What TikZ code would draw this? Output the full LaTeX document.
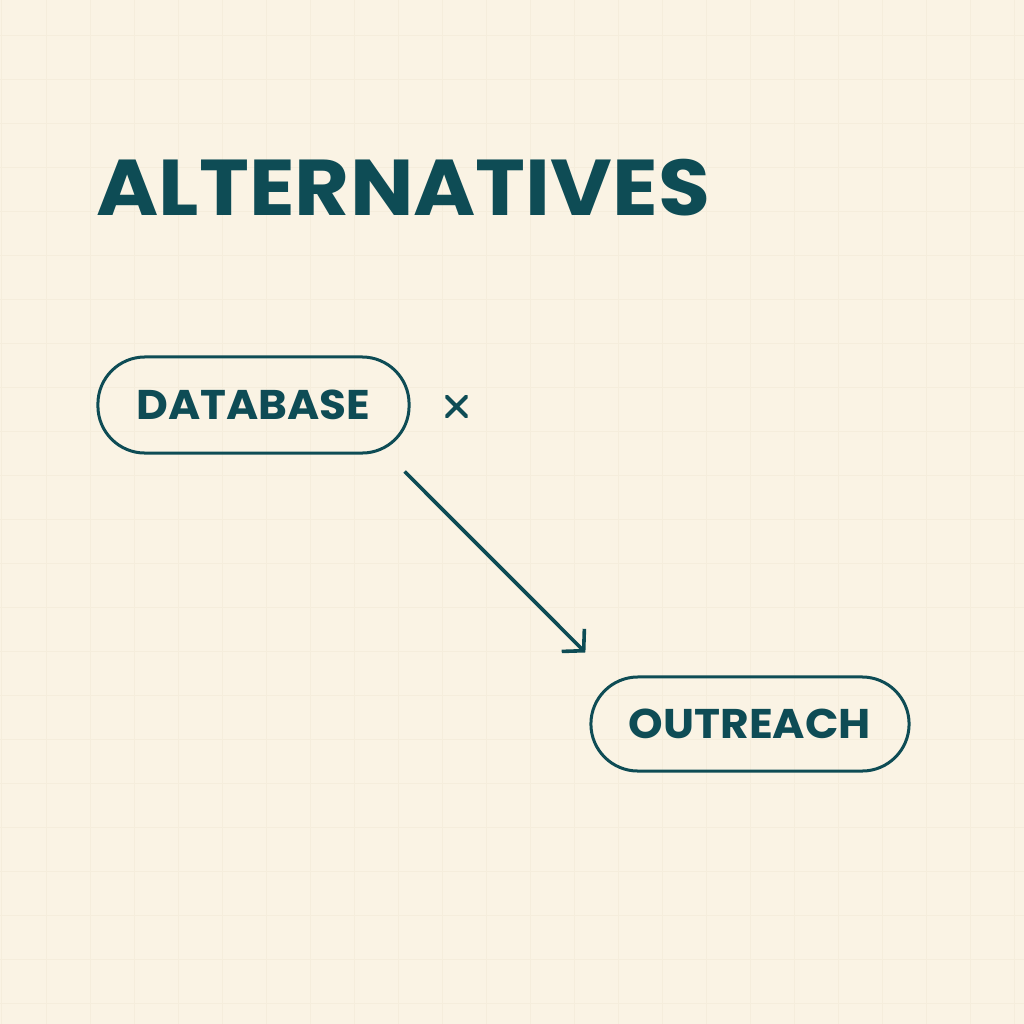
\documentclass[tikz,border=0pt]{standalone}
\usepackage{fontspec}
\setmainfont{Poppins}
\usetikzlibrary{calc,arrows.meta}
\definecolor{bg}{HTML}{FAF3E4}
\definecolor{gridc}{HTML}{F5EDDC}
\definecolor{ink}{HTML}{0E4C55}
\tikzset{
  pill/.style={draw=ink, line width=0.03cm, rounded corners=0.47cm, inner sep=0pt, text=ink, font=\bfseries\fontsize{11.8pt}{14pt}\selectfont},
  conn/.style={draw=ink, line width=0.036cm, -{Straight Barb[length=0.15cm,width=0.32cm,line width=0.036cm]}},
  cross/.style={inner sep=0pt, minimum size=0.22cm, path picture={
     \draw[ink, line width=0.042cm] (path picture bounding box.north west) -- (path picture bounding box.south east)
       (path picture bounding box.north east) -- (path picture bounding box.south west);}}
}
\begin{document}
\begin{tikzpicture}[x=0.01cm,y=-0.01cm]
\fill[bg] (0,0) rectangle (1024,1024);
\useasboundingbox (0,0) rectangle (1024,1024);
\foreach \g in {0,...,23} {
  \draw[gridc, line width=0.01cm] ({2+44*\g},0) -- ({2+44*\g},1024);
  \draw[gridc, line width=0.01cm] (0,{35+44*\g}) -- (1024,{35+44*\g});
}
\node[anchor=base west, inner sep=0pt, text=ink, font=\bfseries\fontsize{22.5pt}{26pt}\selectfont] (title) at (96,215) {\scalebox{1.068}[1]{ALTERNATIVES}};
\node[pill, minimum width=3.11cm, minimum height=0.96cm] (db) at (253.5,405) {\scalebox{1.055}[1]{DATABASE}};
\node[cross] (x) at (456.5,406.5) {};
\node[pill, minimum width=3.18cm, minimum height=0.94cm] (ou) at (750,724) {\scalebox{1.06}[1]{OUTREACH}};
\draw[conn] ($(db.south east)+(-6,17)$) -- ($(ou.north west)+(-4,-23)$);
\end{tikzpicture}
\end{document}
